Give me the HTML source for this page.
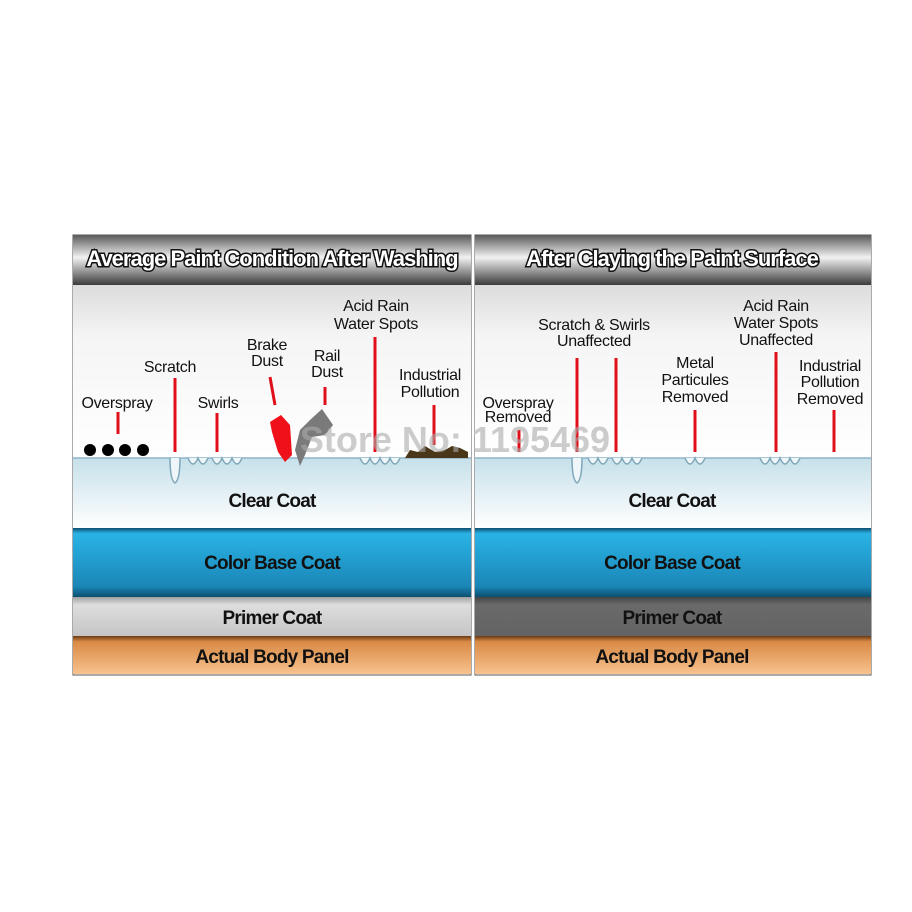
<!DOCTYPE html>
<html><head><meta charset="utf-8"><style>
html,body{margin:0;padding:0;background:#fff;}
svg{display:block}
text{font-family:"Liberation Sans",sans-serif;}
.l{font-size:16px;fill:#111;text-anchor:middle;letter-spacing:-0.3px}
.c{font-weight:bold;font-size:19px;fill:#111;text-anchor:middle;letter-spacing:-0.8px}
.h{font-weight:bold;font-size:22px;fill:#fff;stroke:#111;stroke-width:3px;paint-order:stroke;text-anchor:middle;letter-spacing:-1px}
.r{stroke:#e0101a;stroke-width:3;}
</style></head><body>
<svg width="912" height="912" viewBox="0 0 912 912">
<defs>
<linearGradient id="hd" x1="0" y1="0" x2="0" y2="1"><stop offset="0" stop-color="#5a5a5a"/><stop offset="0.45" stop-color="#f2f2f2"/><stop offset="1" stop-color="#3a3a3a"/></linearGradient>
<linearGradient id="sky" x1="0" y1="0" x2="0" y2="1"><stop offset="0" stop-color="#dcdcdc"/><stop offset="0.3" stop-color="#f5f5f5"/><stop offset="1" stop-color="#ffffff"/></linearGradient>
<linearGradient id="cl" x1="0" y1="0" x2="0" y2="1"><stop offset="0" stop-color="#c6e0ea"/><stop offset="1" stop-color="#ffffff"/></linearGradient>
<linearGradient id="bl" x1="0" y1="0" x2="0" y2="1"><stop offset="0" stop-color="#0d4e6e"/><stop offset="0.08" stop-color="#2ab3e6"/><stop offset="0.85" stop-color="#1a86b6"/><stop offset="1" stop-color="#0d4e6e"/></linearGradient>
<linearGradient id="pl" x1="0" y1="0" x2="0" y2="1"><stop offset="0" stop-color="#a0a0a0"/><stop offset="0.2" stop-color="#dedede"/><stop offset="1" stop-color="#c4c4c4"/></linearGradient>
<linearGradient id="pd" x1="0" y1="0" x2="0" y2="1"><stop offset="0" stop-color="#444"/><stop offset="0.2" stop-color="#6a6a6a"/><stop offset="1" stop-color="#636363"/></linearGradient>
<linearGradient id="or" x1="0" y1="0" x2="0" y2="1"><stop offset="0" stop-color="#6a3a14"/><stop offset="0.15" stop-color="#d98a45"/><stop offset="1" stop-color="#f7c28e"/></linearGradient>
</defs>
<g id="L">
<rect x="73" y="235" width="398" height="440" fill="#fff" stroke="#555" stroke-width="1"/>
<rect x="73" y="235" width="398" height="50" fill="url(#hd)"/>
<rect x="73" y="285" width="398" height="173" fill="url(#sky)"/>
<rect x="73" y="458" width="398" height="70" fill="url(#cl)"/>
<line x1="73" y1="458" x2="471" y2="458" stroke="#8fb4c6" stroke-width="1.5"/>
<rect x="73" y="528" width="398" height="69" fill="url(#bl)"/>
<rect x="73" y="597" width="398" height="39" fill="url(#pl)"/>
<rect x="73" y="636" width="398" height="38" fill="url(#or)"/>
<text class="h" x="272" y="266">Average Paint Condition After Washing</text>
<text class="c" x="272" y="507">Clear Coat</text>
<text class="c" x="272" y="569">Color Base Coat</text>
<text class="c" x="272" y="624">Primer Coat</text>
<text class="c" x="272" y="663">Actual Body Panel</text>
<path d="M170 458 q0 22 5 25 q5 -3 5 -25 M188 458 q5 12 10 0 q5 12 10 0 M212 458 q5 12 10 0 q5 12 10 0 q5 12 10 0 M360 458 q5 12 10 0 q5 12 10 0 q5 12 10 0 q5 12 10 0" fill="#eef6fa" stroke="#7fa6b8" stroke-width="1.5"/>
<circle cx="90" cy="450" r="6" fill="#000"/><circle cx="108" cy="450" r="6" fill="#000"/><circle cx="125" cy="450" r="6" fill="#000"/><circle cx="143" cy="450" r="6" fill="#000"/>
<path d="M270 422 L281 415 L290 425 L292 455 L285 462 L278 452 L272 432Z" fill="#f0101a"/>
<path d="M310 420 L322 409 L333 425 L325 435 L312 437 L305 455 L300 466 L295 450 L300 430Z" fill="#7a7a7a"/>
<path d="M405 458 L410 450 L418 452 L425 446 L435 452 L445 450 L452 446 L460 448 L468 452 L468 458Z" fill="#4a3618"/>
<line class="r" x1="118" y1="412" x2="118" y2="434"/>
<line class="r" x1="175" y1="378" x2="175" y2="452"/>
<line class="r" x1="217" y1="413" x2="217" y2="452"/>
<line class="r" x1="270" y1="377" x2="275" y2="405"/>
<line class="r" x1="325" y1="387" x2="325" y2="405"/>
<line class="r" x1="375" y1="337" x2="375" y2="452"/>
<line class="r" x1="434" y1="405" x2="434" y2="445"/>
<text class="l" x="117" y="408">Overspray</text>
<text class="l" x="170" y="372">Scratch</text>
<text class="l" x="218" y="408">Swirls</text>
<text class="l" x="267" y="350">Brake</text><text class="l" x="267" y="366">Dust</text>
<text class="l" x="327" y="361">Rail</text><text class="l" x="327" y="377">Dust</text>
<text class="l" x="376" y="311">Acid Rain</text><text class="l" x="376" y="329">Water Spots</text>
<text class="l" x="430" y="380">Industrial</text><text class="l" x="430" y="397">Pollution</text>
</g>
<g id="R">
<rect x="475" y="235" width="396" height="440" fill="#fff" stroke="#555" stroke-width="1"/>
<rect x="475" y="235" width="396" height="50" fill="url(#hd)"/>
<rect x="475" y="285" width="396" height="173" fill="url(#sky)"/>
<rect x="475" y="458" width="396" height="70" fill="url(#cl)"/>
<line x1="475" y1="458" x2="871" y2="458" stroke="#8fb4c6" stroke-width="1.5"/>
<rect x="475" y="528" width="396" height="69" fill="url(#bl)"/>
<rect x="475" y="597" width="396" height="39" fill="url(#pd)"/>
<rect x="475" y="636" width="396" height="38" fill="url(#or)"/>
<text class="h" x="672" y="266">After Claying the Paint Surface</text>
<text class="c" x="672" y="507">Clear Coat</text>
<text class="c" x="672" y="569">Color Base Coat</text>
<text class="c" x="672" y="624">Primer Coat</text>
<text class="c" x="672" y="663">Actual Body Panel</text>
<path d="M572 458 q0 22 5 25 q5 -3 5 -25 M588 458 q5 12 10 0 q5 12 10 0 M612 458 q5 12 10 0 q5 12 10 0 q5 12 10 0 M685 458 q5 12 10 0 q5 12 10 0 M760 458 q5 12 10 0 q5 12 10 0 q5 12 10 0 q5 12 10 0" fill="#eef6fa" stroke="#7fa6b8" stroke-width="1.5"/>
<line class="r" x1="519" y1="430" x2="519" y2="452"/>
<line class="r" x1="577" y1="358" x2="577" y2="452"/>
<line class="r" x1="616" y1="358" x2="616" y2="452"/>
<line class="r" x1="695" y1="410" x2="695" y2="452"/>
<line class="r" x1="776" y1="352" x2="776" y2="452"/>
<line class="r" x1="834" y1="410" x2="834" y2="452"/>
<text class="l" x="518" y="408">Overspray</text><text class="l" x="518" y="422">Removed</text>
<text class="l" x="594" y="330">Scratch &amp; Swirls</text><text class="l" x="594" y="346">Unaffected</text>
<text class="l" x="695" y="368">Metal</text><text class="l" x="695" y="385">Particules</text><text class="l" x="695" y="402">Removed</text>
<text class="l" x="776" y="311">Acid Rain</text><text class="l" x="776" y="328">Water Spots</text><text class="l" x="776" y="345">Unaffected</text>
<text class="l" x="830" y="371">Industrial</text><text class="l" x="830" y="387">Pollution</text><text class="l" x="830" y="404">Removed</text>
</g>
<text x="455" y="452" text-anchor="middle" style="font-weight:bold;font-size:36px;fill:#aaa;fill-opacity:0.6">Store No: 1195469</text>
</svg>
</body></html>
